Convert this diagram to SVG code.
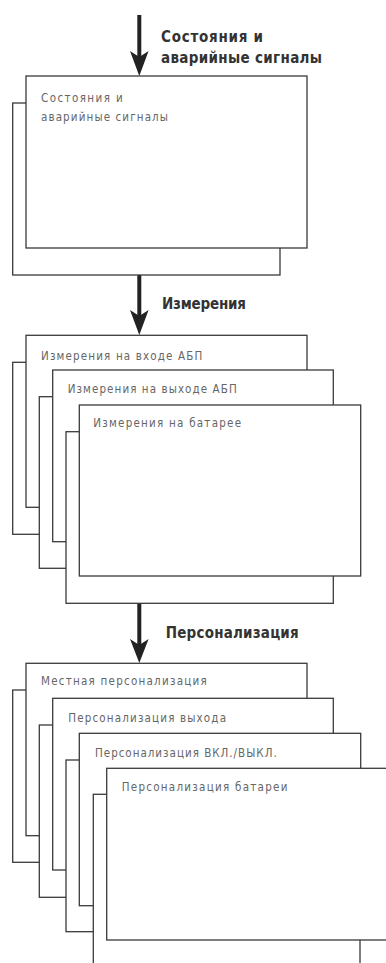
<svg xmlns="http://www.w3.org/2000/svg" width="386" height="963" viewBox="0 0 386 963">
<style>
.bx{fill:#fff;stroke:#3a3a3a;stroke-width:1.3}
.lbl{font-family:"DejaVu Sans Condensed","DejaVu Sans","Liberation Sans",sans-serif;font-stretch:condensed;font-size:11.5px;fill:#666}
.hdr{font-family:"DejaVu Sans Condensed","DejaVu Sans","Liberation Sans",sans-serif;font-stretch:condensed;font-size:15px;font-weight:bold;fill:#333}
.shaft{stroke:#222;stroke-width:4;fill:none}
.head{fill:#222}
</style>
<rect width="386" height="963" fill="#fff"/>
<g id="connectors">
  <line class="shaft" x1="139.3" y1="15" x2="139.3" y2="58"/>
  <path class="head" d="M130,51 L139.3,57 L148.6,51 L139.3,76 Z"/>
  <line class="shaft" x1="139.3" y1="275" x2="139.3" y2="316"/>
  <path class="head" d="M130,310 L139.3,316 L148.6,310 L139.3,335 Z"/>
  <line class="shaft" x1="139.3" y1="603" x2="139.3" y2="645"/>
  <path class="head" d="M130,639 L139.3,645 L148.6,639 L139.3,663 Z"/>
  <text class="hdr" x="161" y="42" textLength="102" lengthAdjust="spacing">Состояния и</text>
  <text class="hdr" x="161" y="63" textLength="161" lengthAdjust="spacing">аварийные сигналы</text>
  <text class="hdr" x="162" y="309" textLength="84" lengthAdjust="spacing">Измерения</text>
  <text class="hdr" x="165.7" y="638" textLength="133" lengthAdjust="spacing">Персонализация</text>
</g>
<g id="node-status">
  <rect class="bx" x="12.7" y="103" width="267.3" height="172"/>
  <rect class="bx" x="26" y="76" width="281" height="172"/>
  <text class="lbl" x="41" y="102" textLength="81.7" lengthAdjust="spacing">Состояния и</text>
  <text class="lbl" x="41" y="120.7" textLength="127" lengthAdjust="spacing">аварийные сигналы</text>
</g>
<g id="node-meas-in">
  <rect class="bx" x="12.7" y="362.3" width="267.3" height="172"/>
  <rect class="bx" x="26" y="335.3" width="281" height="172"/>
  <text class="lbl" x="41" y="360" textLength="161.3" lengthAdjust="spacing">Измерения на входе АБП</text>
</g>
<g id="node-meas-out">
  <rect class="bx" x="39.3" y="396.7" width="267.7" height="171.6"/>
  <rect class="bx" x="52.7" y="370" width="280.6" height="171.7"/>
  <text class="lbl" x="67.7" y="393.3" textLength="169" lengthAdjust="spacing">Измерения на выходе АБП</text>
</g>
<g id="node-meas-bat">
  <rect class="bx" x="66" y="431.7" width="267.3" height="171.6"/>
  <rect class="bx" x="79.3" y="405" width="281.4" height="171"/>
  <text class="lbl" x="93.3" y="427.3" textLength="147.7" lengthAdjust="spacing">Измерения на батарее</text>
</g>
<g id="node-pers-local">
  <rect class="bx" x="12.7" y="690" width="267.3" height="172.3"/>
  <rect class="bx" x="26" y="663.3" width="281" height="172.4"/>
  <text class="lbl" x="41" y="685" textLength="165.7" lengthAdjust="spacing">Местная персонализация</text>
</g>
<g id="node-pers-out">
  <rect class="bx" x="39.3" y="725" width="267.7" height="172.3"/>
  <rect class="bx" x="52.7" y="698.3" width="280.6" height="171.7"/>
  <text class="lbl" x="68.3" y="721.7" textLength="157.7" lengthAdjust="spacing">Персонализация выхода</text>
</g>
<g id="node-pers-onoff">
  <rect class="bx" x="66" y="760" width="267.3" height="171.7"/>
  <rect class="bx" x="79.3" y="733.3" width="281.4" height="172.4"/>
  <text class="lbl" x="95" y="756.7" textLength="181.7" lengthAdjust="spacing">Персонализация ВКЛ./ВЫКЛ.</text>
</g>
<g id="node-pers-bat">
  <rect class="bx" x="93.3" y="794.3" width="266.7" height="190"/>
  <rect class="bx" x="106.7" y="768.3" width="290" height="171.7"/>
  <text class="lbl" x="121.7" y="791" textLength="165.7" lengthAdjust="spacing">Персонализация батареи</text>
</g>
</svg>
